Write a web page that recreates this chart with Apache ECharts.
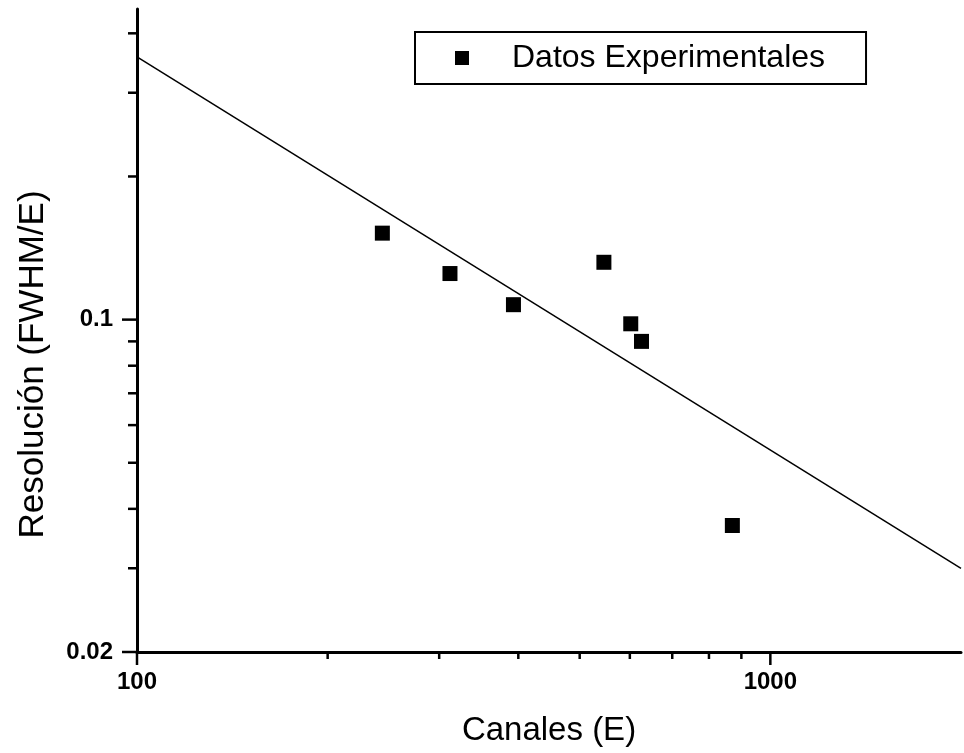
<!DOCTYPE html>
<html>
<head>
<meta charset="utf-8">
<script src="https://cdn.jsdelivr.net/npm/echarts@6/dist/echarts.min.js"></script>
<style>
  html, body { margin: 0; padding: 0; background: #fff; }
  #chart { width: 964px; height: 753px; }
</style>
</head>
<body>
<div id="chart"></div>
<script>
// ---- Data ----
const seriesName = 'Datos Experimentales';
const xValues = [244, 312, 393, 546, 602, 626, 871];
const yValues = [0.152, 0.125, 0.1075, 0.132, 0.098, 0.090, 0.0369];
const fitX = [100, 2000];
const fitY = [0.357, 0.030];
const xRange = [100, 2000];
const yRange = [0.02, 0.45];
const xTickLabels = [100, 1000];
const yTickLabels = [0.02, 0.1];
const xMinorTicks = [200, 300, 400, 500, 600, 700, 800, 900];
const yMinorTicks = [0.03, 0.04, 0.05, 0.06, 0.07, 0.08, 0.09, 0.2, 0.3, 0.4];
const xTitle = 'Canales (E)';
const yTitle = 'Resolución (FWHM/E)';

const FONT = 'Liberation Sans, Arial, Helvetica, sans-serif';

function matchLabel(list, v) {
  for (const t of list) {
    if (Math.abs(Math.log10(v) - Math.log10(t)) < 1e-6) return String(t);
  }
  return '';
}

const xTickData = xTickLabels.map(v => [v, yRange[0], 13])
  .concat(xMinorTicks.map(v => [v, yRange[0], 7]));
const yTickData = yTickLabels.map(v => [xRange[0], v, 15])
  .concat(yMinorTicks.map(v => [xRange[0], v, 9]));

const chart = echarts.init(document.getElementById('chart'), null, { renderer: 'canvas' });

const option = {
  backgroundColor: '#ffffff',
  animation: false,
  grid: { left: 137, right: 1, top: 9, bottom: 101, containLabel: false },
  legend: {
    data: [seriesName],
    left: 415,
    top: 32,
    icon: 'rect',
    itemWidth: 14,
    itemHeight: 14,
    itemStyle: { color: '#000', opacity: 1 },
    borderColor: '#000',
    borderWidth: 2,
    borderRadius: 0,
    padding: [10, 41, 10, 40],
    backgroundColor: '#fff',
    textStyle: { fontFamily: FONT, fontSize: 32, color: '#000', padding: [0, 0, 0, 38], lineHeight: 31 }
  },
  xAxis: {
    type: 'log',
    logBase: 10,
    min: xRange[0],
    max: xRange[1],
    name: xTitle,
    nameLocation: 'middle',
    nameGap: 62,
    nameTextStyle: { fontFamily: FONT, fontSize: 33, color: '#000' },
    axisLine: { show: true, lineStyle: { color: '#000', width: 3 } },
    axisTick: { show: false },
    minorTick: { show: false },
    splitLine: { show: false },
    minorSplitLine: { show: false },
    axisLabel: {
      margin: 18,
      fontFamily: FONT, fontSize: 24, fontWeight: 'bold', color: '#000',
      formatter: v => matchLabel(xTickLabels, v),
      showMinLabel: true, showMaxLabel: true
    }
  },
  yAxis: {
    type: 'log',
    logBase: 10,
    min: yRange[0],
    max: yRange[1],
    name: yTitle,
    nameLocation: 'middle',
    nameGap: 86,
    nameTextStyle: { fontFamily: FONT, fontSize: 35, color: '#000', padding: [0, 68, 0, 0] },
    axisLine: { show: true, lineStyle: { color: '#000', width: 3 } },
    axisTick: { show: false },
    minorTick: { show: false },
    splitLine: { show: false },
    minorSplitLine: { show: false },
    axisLabel: {
      margin: 24,
      fontFamily: FONT, fontSize: 24, fontWeight: 'bold', color: '#000',
      formatter: v => matchLabel(yTickLabels, v),
      showMinLabel: true, showMaxLabel: true
    }
  },
  series: [
    {
      name: 'fit',
      type: 'line',
      data: fitX.map((x, i) => [x, fitY[i]]),
      showSymbol: false,
      symbol: 'none',
      silent: true,
      lineStyle: { color: '#000', width: 1.5 },
      z: 2
    },
    {
      name: seriesName,
      type: 'scatter',
      data: xValues.map((x, i) => [x, yValues[i]]),
      symbol: 'rect',
      symbolSize: 15,
      itemStyle: { color: '#000', opacity: 1 },
      z: 3
    },
    {
      name: 'xticks',
      type: 'custom',
      silent: true,
      clip: false,
      data: xTickData,
      renderItem: (params, api) => {
        const p = api.coord([api.value(0), api.value(1)]);
        const len = api.value(2);
        return {
          type: 'line',
          shape: { x1: p[0], y1: p[1], x2: p[0], y2: p[1] + len },
          style: { stroke: '#000', lineWidth: 2.5 }
        };
      },
      z: 4
    },
    {
      name: 'yticks',
      type: 'custom',
      silent: true,
      clip: false,
      data: yTickData,
      renderItem: (params, api) => {
        const p = api.coord([api.value(0), api.value(1)]);
        const len = api.value(2);
        return {
          type: 'line',
          shape: { x1: p[0] - len, y1: p[1], x2: p[0], y2: p[1] },
          style: { stroke: '#000', lineWidth: 2.5 }
        };
      },
      z: 4
    }
  ]
};

chart.setOption(option);
</script>
</body>
</html>
